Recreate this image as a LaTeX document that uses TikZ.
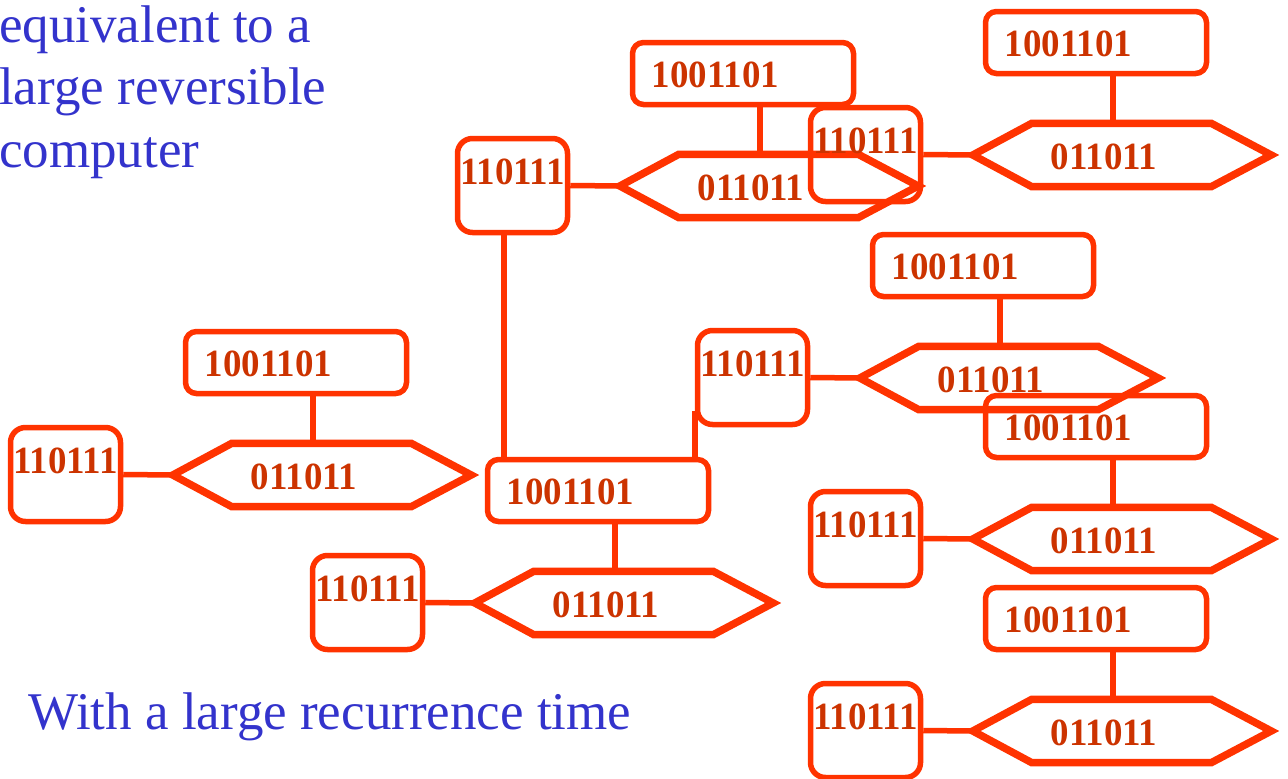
\documentclass[tikz,border=0pt]{standalone}
\usepackage{fontspec}
\setmainfont{Liberation Serif}
\usepackage{graphicx}

\definecolor{wire}{RGB}{255,51,0}
\definecolor{bitred}{RGB}{204,51,0}
\definecolor{capblue}{RGB}{51,51,204}

\tikzset{
  bitfont/.style={font=\fontsize{38.5}{38.5}\selectfont\bfseries, text=bitred},
  tallbox/.style={draw=wire, line width=5.5pt, rounded corners=15pt,
    minimum width=110pt, minimum height=94pt, inner sep=0pt,
    text height=26pt, text depth=29pt, bitfont},
  widebox/.style={draw=wire, line width=5.5pt, rounded corners=11pt,
    minimum width=221pt, minimum height=62pt, inner sep=0pt,
    text height=27pt, text depth=0pt, bitfont},
  hexframe/.style={minimum width=298pt, minimum height=63pt, inner sep=0pt,
    text height=28pt, text depth=0pt, bitfont},
  hexline/.style={draw=wire, line width=7.5pt, miter limit=10},
  link/.style={draw=wire, line width=5.5pt},
  caption/.style={font=\fontsize{53}{53}\selectfont, text=capblue,
    anchor=base west, inner sep=0pt}
}

% condensed bold digits
\newcommand{\squeezed}[1]{\scalebox{0.96}[1]{#1}}

% one cell: register box, pointed hexagon, wide box above it
% #1 name, #2 x of the hexagon's left tip, #3 y of that tip
\newcommand{\bitcell}[3]{%
  \node[tallbox] (box#1) at ({#2-100.5},{#3-0.5}) {\squeezed{110111}};
  \node[widebox] (rect#1) at ({#2+130},{#3-112.5}) {\squeezed{1001101}\hspace*{55pt}};
  \node[hexframe] (hex#1) at ({#2+156},{#3}) {\squeezed{011011}\hspace*{36pt}};
  \draw[hexline] (hex#1.west) -- ([xshift=59pt]hex#1.north west)
    -- ([xshift=-60pt]hex#1.north east) -- (hex#1.east)
    -- ([xshift=-60pt]hex#1.south east) -- ([xshift=59pt]hex#1.south west)
    -- cycle;
  \coordinate (drop#1) at ([xshift=17pt]rect#1.south);
  \draw[link] (box#1.east) -- (hex#1.west);
  \draw[link] (drop#1) -- (drop#1 |- hex#1.north);
}

\begin{document}
\begin{tikzpicture}[x=1pt, y=-1pt]
  \useasboundingbox (0,0) rectangle (1288,779);

  % captions
  \node[caption] (cap1) at (-1,42) {equivalent to a};
  \node[caption] (cap2) at (-1,104) {large reversible};
  \node[caption] (cap3) at (-1,167) {computer};
  \node[caption] (cap4) at (28,729) {With a large recurrence time};

  % cells
  \bitcell{A}{166}{475}
  \bitcell{B}{468}{603}
  \bitcell{C}{613}{186}
  \bitcell{D}{853}{378}
  \bitcell{E}{966}{155}
  \bitcell{F}{966}{539}
  \bitcell{G}{966}{731}

  % links joining cells C and D to the wide box of cell B
  \coordinate (footC) at ([xshift=-8.5pt]boxC.south);
  \coordinate (footD) at ([yshift=16pt]boxD.south west);
  \draw[link] (footC) -- (footC |- rectB.north);
  \draw[link] (footD) -- (footD |- rectB.north);
\end{tikzpicture}
\end{document}
